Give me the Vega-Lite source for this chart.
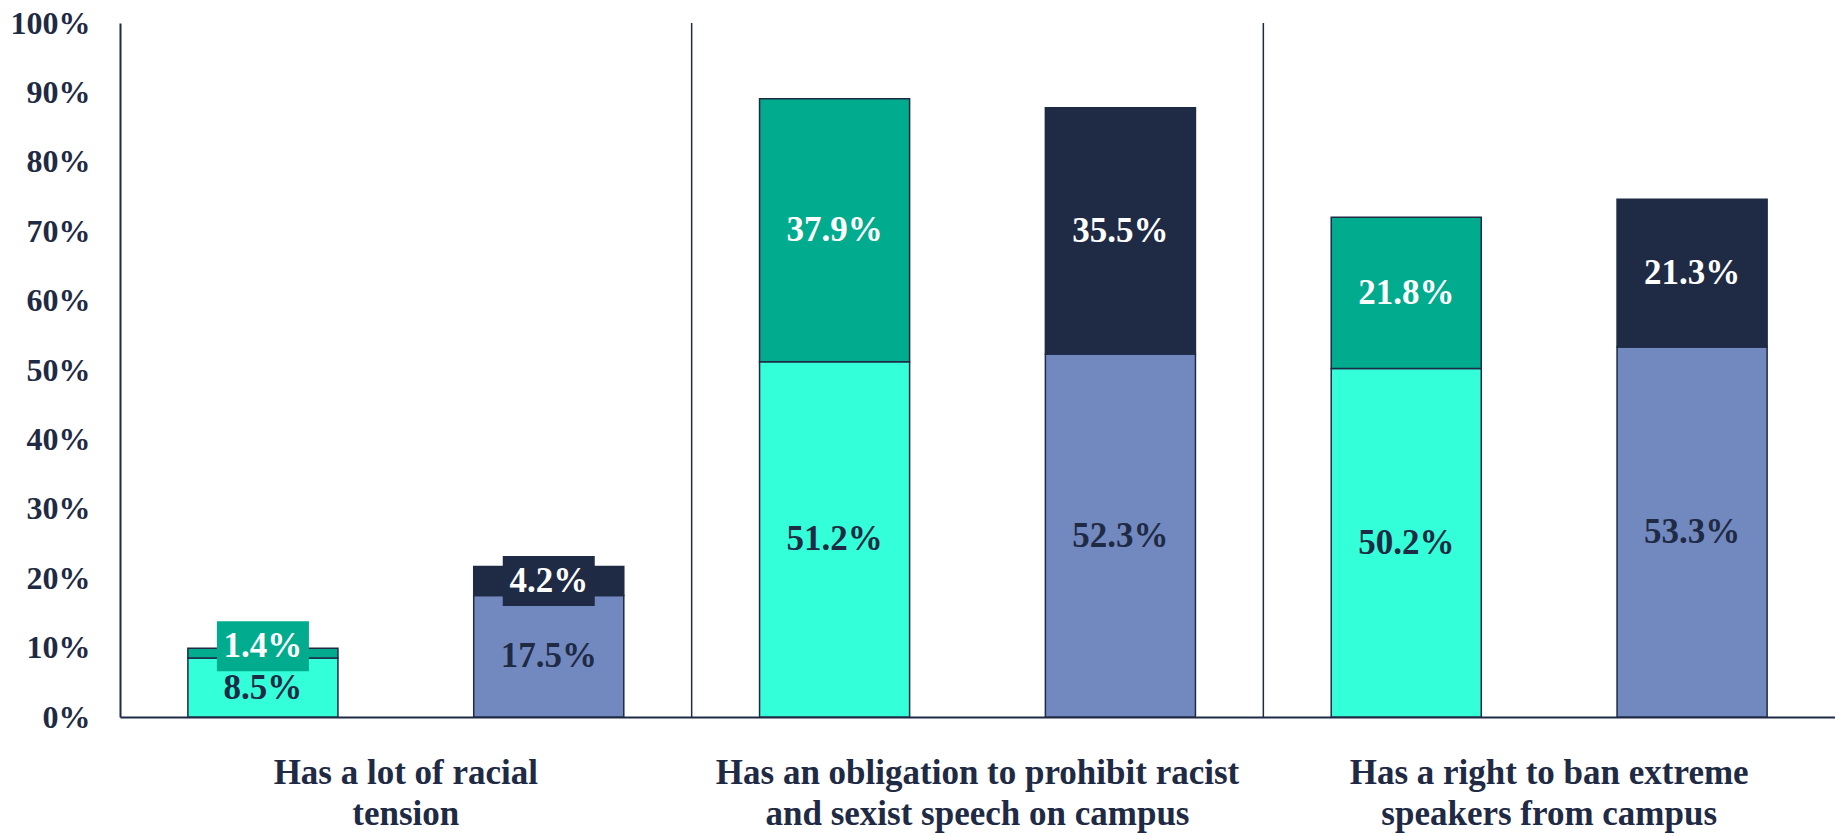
{
  "$schema": "https://vega.github.io/schema/vega-lite/v6.json",
  "width": 1715,
  "height": 694,
  "autosize": {"type": "none"},
  "padding": {"left": 120, "top": 23, "right": 0, "bottom": 119},
  "background": "white",
  "config": {"view": {"stroke": null}, "font": "Liberation Serif"},
  "datasets": {
    "bars": [
      {"group": "Has a lot of racial tension", "series": "A", "level": "lower", "segment": "A lower", "value": 0.085},
      {"group": "Has a lot of racial tension", "series": "A", "level": "upper", "segment": "A upper", "value": 0.014},
      {"group": "Has a lot of racial tension", "series": "B", "level": "lower", "segment": "B lower", "value": 0.175},
      {"group": "Has a lot of racial tension", "series": "B", "level": "upper", "segment": "B upper", "value": 0.042},
      {"group": "Has an obligation to prohibit racist and sexist speech on campus", "series": "A", "level": "lower", "segment": "A lower", "value": 0.512},
      {"group": "Has an obligation to prohibit racist and sexist speech on campus", "series": "A", "level": "upper", "segment": "A upper", "value": 0.379},
      {"group": "Has an obligation to prohibit racist and sexist speech on campus", "series": "B", "level": "lower", "segment": "B lower", "value": 0.523},
      {"group": "Has an obligation to prohibit racist and sexist speech on campus", "series": "B", "level": "upper", "segment": "B upper", "value": 0.355},
      {"group": "Has a right to ban extreme speakers from campus", "series": "A", "level": "lower", "segment": "A lower", "value": 0.502},
      {"group": "Has a right to ban extreme speakers from campus", "series": "A", "level": "upper", "segment": "A upper", "value": 0.218},
      {"group": "Has a right to ban extreme speakers from campus", "series": "B", "level": "lower", "segment": "B lower", "value": 0.533},
      {"group": "Has a right to ban extreme speakers from campus", "series": "B", "level": "upper", "segment": "B upper", "value": 0.213}
    ],
    "dividers": [
      {"group": "Has an obligation to prohibit racist and sexist speech on campus"},
      {"group": "Has a right to ban extreme speakers from campus"}
    ]
  },
  "encoding": {
    "x": {
      "field": "group",
      "type": "nominal",
      "sort": ["Has a lot of racial tension", "Has an obligation to prohibit racist and sexist speech on campus", "Has a right to ban extreme speakers from campus"],
      "scale": {"paddingInner": 0, "paddingOuter": 0},
      "axis": {
        "title": null,
        "labelAngle": 0,
        "labelLimit": 0,
        "ticks": false,
        "domainColor": "#1F2A44",
        "domainWidth": 2,
        "labelFont": "Liberation Serif",
        "labelFontSize": 35,
        "labelFontWeight": "bold",
        "labelColor": "#1F2A44",
        "labelLineHeight": 41,
        "labelPadding": 38,
        "labelExpr": "datum.value == 'Has a lot of racial tension' ? ['Has a lot of racial', 'tension'] : datum.value == 'Has an obligation to prohibit racist and sexist speech on campus' ? ['Has an obligation to prohibit racist', 'and sexist speech on campus'] : ['Has a right to ban extreme', 'speakers from campus']"
      }
    }
  },
  "layer": [
    {
      "data": {"name": "bars"},
      "mark": {"type": "bar", "stroke": "#1F2A44", "strokeWidth": 1.5},
      "encoding": {
        "xOffset": {"field": "series", "type": "nominal", "scale": {"paddingInner": 0.475, "paddingOuter": 0.2375}},
        "y": {
          "field": "value",
          "type": "quantitative",
          "stack": "zero",
          "scale": {"domain": [0, 1], "nice": false},
          "axis": {
            "title": null,
            "values": [0, 0.1, 0.2, 0.3, 0.4, 0.5, 0.6, 0.7, 0.8, 0.9, 1],
            "format": ".0%",
            "grid": false,
            "ticks": false,
            "domainColor": "#1F2A44",
            "domainWidth": 2,
            "labelFont": "Liberation Serif",
            "labelFontSize": 32,
            "labelFontWeight": "bold",
            "labelColor": "#1F2A44",
            "labelPadding": 30
          }
        },
        "color": {
          "field": "segment",
          "type": "nominal",
          "scale": {"domain": ["A lower", "A upper", "B lower", "B upper"], "range": ["#33FFD9", "#00AB8E", "#7289C0", "#1F2A44"]},
          "legend": null
        },
        "order": {"field": "level"}
      }
    },
    {
      "data": {"name": "bars"},
      "mark": {"type": "tick", "orient": "horizontal", "thickness": 50, "size": 92, "yOffset": {"expr": "datum.value < 0.02 ? -7 : 0"}},
      "encoding": {
        "xOffset": {"field": "series", "type": "nominal"},
        "y": {"field": "value", "type": "quantitative", "stack": "zero", "bandPosition": 0.5},
        "color": {"field": "segment", "type": "nominal", "legend": null},
        "opacity": {"condition": {"test": "datum.value < 0.05", "value": 1}, "value": 0},
        "order": {"field": "level"}
      }
    },
    {
      "data": {"name": "bars"},
      "mark": {"type": "text", "font": "Liberation Serif", "fontSize": 35, "fontWeight": "bold", "baseline": "middle", "align": "center", "yOffset": {"expr": "datum.value < 0.02 ? -7 : 0"}},
      "encoding": {
        "xOffset": {"field": "series", "type": "nominal"},
        "y": {"field": "value", "type": "quantitative", "stack": "zero", "bandPosition": 0.5},
        "text": {"field": "value", "type": "quantitative", "format": ".1%"},
        "color": {"condition": {"test": "datum.level == 'upper'", "value": "white"}, "value": "#1F2A44"},
        "order": {"field": "level"}
      }
    },
    {
      "data": {"name": "dividers"},
      "mark": {"type": "rule", "color": "#1F2A44", "strokeWidth": 1.5},
      "encoding": {
        "x": {"field": "group", "type": "nominal", "bandPosition": 0},
        "y": {"datum": 0},
        "y2": {"datum": 1}
      }
    }
  ]
}
